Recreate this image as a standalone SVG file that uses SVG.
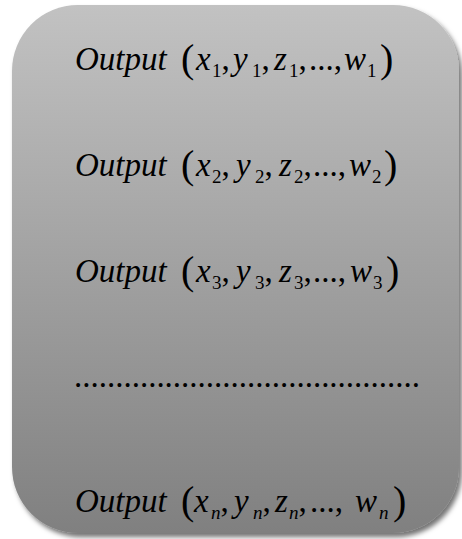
<svg xmlns="http://www.w3.org/2000/svg" width="462" height="539" viewBox="0 0 462 539">
<defs>
<linearGradient id="bg" x1="0" y1="0" x2="0" y2="1">
<stop offset="0" stop-color="#c2c2c2"/>
<stop offset="1" stop-color="#808080"/>
</linearGradient>
<filter id="sh" x="-5%" y="-5%" width="115%" height="115%">
<feDropShadow dx="3" dy="4" stdDeviation="2.5" flood-color="#000" flood-opacity="0.55"/>
</filter>
<style>
text{font-family:"Liberation Serif","Times New Roman","DejaVu Serif",serif;fill:#000;}
.m{font-size:33px;font-style:italic;}
.p{font-size:40px;font-style:normal;}
.s{font-size:19px;font-style:normal;}
.si{font-size:19px;font-style:italic;}
.c{font-size:33px;font-style:normal;}
</style>
</defs>
<g id="box">
<rect x="12" y="5" width="447" height="528" rx="66" ry="66" fill="url(#bg)" filter="url(#sh)"/>
</g>
<g id="row1">
<text class="m" y="70"><tspan x="75">Output</tspan><tspan class="p" x="181" y="72">(</tspan><tspan x="196" y="70">x</tspan><tspan class="s" x="212" y="77">1</tspan><tspan class="c" y="70">,</tspan><tspan x="233">y</tspan><tspan class="s" x="252" y="77">1</tspan><tspan class="c" y="70">,</tspan><tspan x="274">z</tspan><tspan class="s" x="289" y="77">1</tspan><tspan class="c" y="70">,</tspan><tspan class="c" x="309">...,</tspan><tspan x="344">w</tspan><tspan class="s" x="367" y="77">1</tspan><tspan class="p" x="380" y="72">)</tspan></text>
</g>
<g id="row2">
<text class="m" y="176"><tspan x="75">Output</tspan><tspan class="p" x="181" y="178">(</tspan><tspan x="196" y="176">x</tspan><tspan class="s" x="212" y="183">2</tspan><tspan class="c" y="176">,</tspan><tspan x="236">y</tspan><tspan class="s" x="255" y="183">2</tspan><tspan class="c" y="176">,</tspan><tspan x="279">z</tspan><tspan class="s" x="294" y="183">2</tspan><tspan class="c" y="176">,</tspan><tspan class="c" x="313">...,</tspan><tspan x="349">w</tspan><tspan class="s" x="372" y="183">2</tspan><tspan class="p" x="384" y="178">)</tspan></text>
</g>
<g id="row3">
<text class="m" y="282"><tspan x="75">Output</tspan><tspan class="p" x="181" y="284">(</tspan><tspan x="196" y="282">x</tspan><tspan class="s" x="212" y="289">3</tspan><tspan class="c" y="282">,</tspan><tspan x="236">y</tspan><tspan class="s" x="255" y="289">3</tspan><tspan class="c" y="282">,</tspan><tspan x="279">z</tspan><tspan class="s" x="294" y="289">3</tspan><tspan class="c" y="282">,</tspan><tspan class="c" x="313">...,</tspan><tspan x="350">w</tspan><tspan class="s" x="373" y="289">3</tspan><tspan class="p" x="386" y="284">)</tspan></text>
</g>
<g id="dots">
<text class="c" x="74" y="387" textLength="346" lengthAdjust="spacing">..........................................</text>
</g>
<g id="rown">
<text class="m" y="512"><tspan x="75">Output</tspan><tspan class="p" x="181" y="514">(</tspan><tspan x="194" y="512">x</tspan><tspan class="si" x="211" y="519">n</tspan><tspan class="c" y="512">,</tspan><tspan x="234">y</tspan><tspan class="si" x="253" y="519">n</tspan><tspan class="c" y="512">,</tspan><tspan x="275">z</tspan><tspan class="si" x="289" y="519">n</tspan><tspan class="c" y="512">,</tspan><tspan class="c" x="310">...,</tspan><tspan x="355">w</tspan><tspan class="si" x="379" y="519">n</tspan><tspan class="p" x="393" y="514">)</tspan></text>
</g>
</svg>
